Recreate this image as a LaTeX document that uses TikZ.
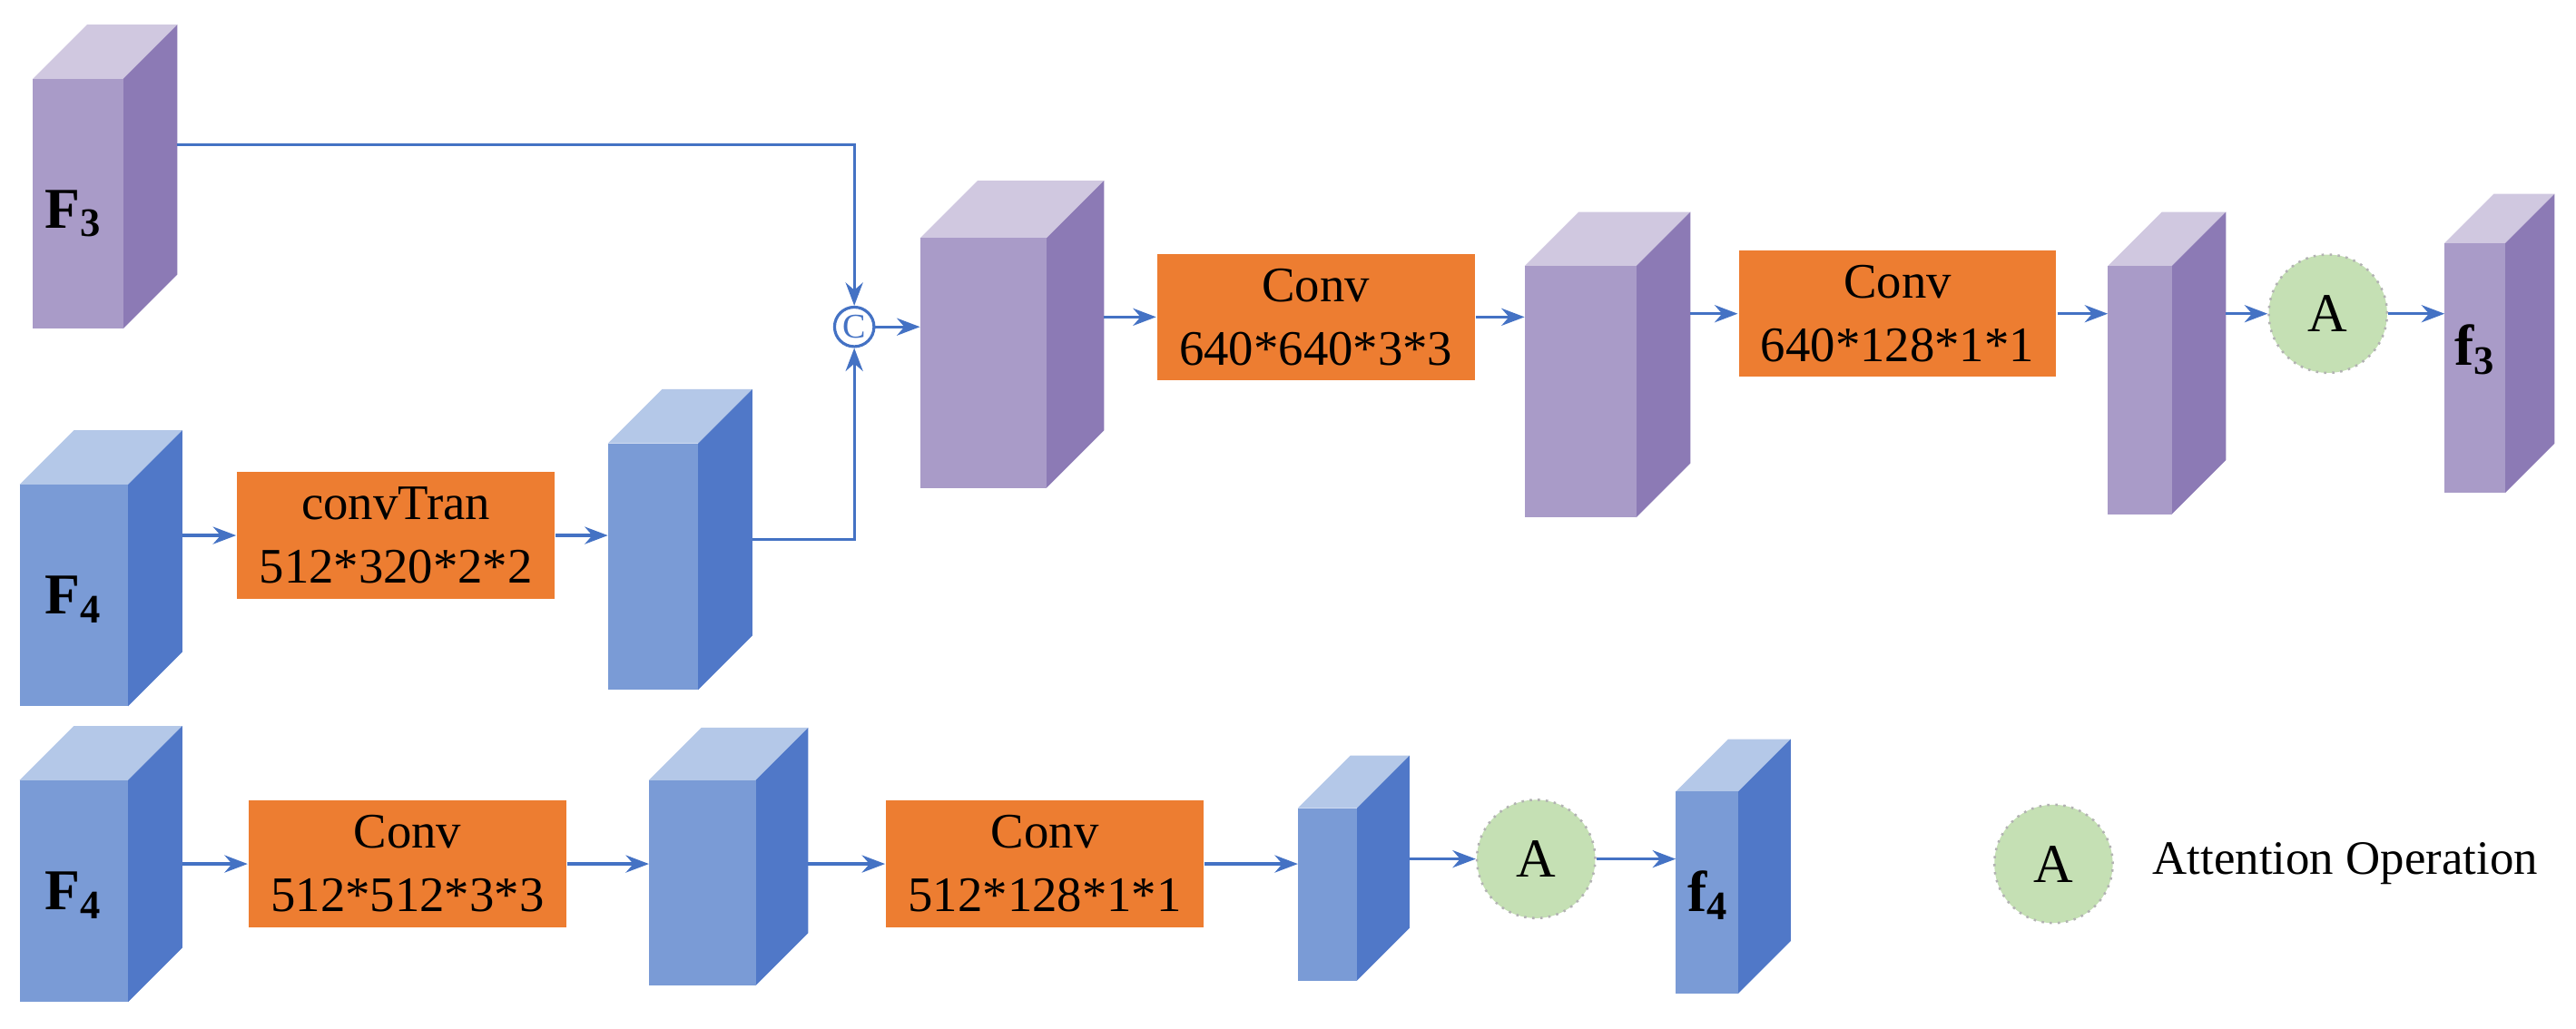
\documentclass[tikz,border=0pt]{standalone}
\usepackage{fontspec}
\setmainfont{Liberation Serif}
\usetikzlibrary{arrows.meta}
\definecolor{pf}{HTML}{A99BC8}\definecolor{ps}{HTML}{8C7AB5}\definecolor{pt}{HTML}{D0C8E0}
\definecolor{bf}{HTML}{7A9BD6}\definecolor{bs}{HTML}{5078C8}\definecolor{bt}{HTML}{B4C8E8}
\definecolor{org}{HTML}{ED7D31}\definecolor{grn}{HTML}{C5E0B4}\definecolor{ln}{HTML}{4472C4}
% #1 name #2 x1 #3 y1 #4 x2 #5 y2 #6 depth #7 front #8 side #9 top
\newcommand\mycube[9]{%
  \fill[#9] (#2,#3) -- ++(#6,-#6) -- (#4+#6,#3-#6) -- (#4,#3) -- cycle;
  \fill[#8] (#4,#3) -- (#4+#6,#3-#6) -- (#4+#6,#5-#6) -- (#4,#5) -- cycle;
  \fill[#7] (#2,#3) rectangle (#4,#5);
  \coordinate (#1-l) at (#2,{(#3+#5)/2-#6/2});
  \coordinate (#1-r) at (#4+#6,{(#3+#5)/2-#6/2});
}
\tikzset{x=0.01cm,y=-0.01cm,
  box/.style={fill=org,minimum width=1.93cm,minimum height=0.77cm,align=center,font=\fontsize{8.6}{11}\selectfont,inner sep=0pt},
  att/.style={circle,fill=grn,draw=gray!60,densely dotted,minimum size=0.72cm,font=\fontsize{9.5}{10}\selectfont,inner sep=0pt},
  arr/.style={draw=ln,-{Stealth[length=4pt,width=3pt]},line width=0.5pt},
  lab/.style={font=\bfseries\fontsize{10}{11}\selectfont}}
\begin{document}
\begin{tikzpicture}
\useasboundingbox (0,0) rectangle (1568,626);
\mycube{F3}{20}{48}{75}{200}{33}{pf}{ps}{pt}
\mycube{F4a}{12}{295}{78}{430}{33}{bf}{bs}{bt}
\mycube{B1}{370}{270}{425}{420}{33}{bf}{bs}{bt}
\mycube{P1}{560}{145}{637}{297}{35}{pf}{ps}{pt}
\mycube{P2}{928}{162}{996}{315}{33}{pf}{ps}{pt}
\mycube{P3}{1283}{162}{1322}{313}{33}{pf}{ps}{pt}
\mycube{f3}{1488}{148}{1525}{300}{30}{pf}{ps}{pt}
\mycube{F4b}{12}{475}{78}{610}{33}{bf}{bs}{bt}
\mycube{B2}{395}{475}{460}{600}{32}{bf}{bs}{bt}
\mycube{B3}{790}{492}{826}{597}{32}{bf}{bs}{bt}
\mycube{f4}{1020}{482}{1058}{605}{32}{bf}{bs}{bt}
\node[lab] (tF3) at (45,130) {F$_{\mathbf 3}$};
\node[lab] (tF4a) at (45,365) {F$_{\mathbf 4}$};
\node[lab] (tF4b) at (45,545) {F$_{\mathbf 4}$};
\node[lab] (tf3) at (1507,213) {f$_{\mathbf 3}$};
\node[lab] (tf4) at (1040,545) {f$_{\mathbf 4}$};
\node[box] (ct) at (241,326) {convTran\\512*320*2*2};
\node[box] (c1) at (801,193) {Conv\\640*640*3*3};
\node[box] (c2) at (1155,191) {Conv\\640*128*1*1};
\node[box] (c3) at (248,526) {Conv\\512*512*3*3};
\node[box] (c4) at (636,526) {Conv\\512*128*1*1};
\node[att] (a1) at (1417,191) {A};
\node[att] (a2) at (935,523) {A};
\node[att] (a3) at (1250,526) {A};
\node[anchor=west,font=\fontsize{8.3}{10}\selectfont] (leg) at (1298,526) {Attention Operation};
\node[circle,draw=ln,line width=0.5pt,minimum size=0.24cm,inner sep=0pt,text=ln,font=\fontsize{6}{6}\selectfont] (cc) at (520,199) {C};
\coordinate (f3o) at (108,88);
\draw[arr] (f3o) -| (cc.north);
\draw[arr] (B1-r) -| (cc.south);
\draw[arr] (cc) -- (P1-l|-cc);
\draw[arr] (F4a-r|-ct.west) -- (ct.west);
\draw[arr] (ct.east) -- (B1-l|-ct.east);
\draw[arr] (P1-r|-c1.west) -- (c1.west);
\draw[arr] (c1.east) -- (P2-l|-c1.east);
\draw[arr] (P2-r|-c2.west) -- (c2.west);
\draw[arr] (c2.east) -- (P3-l|-c2.east);
\draw[arr] (P3-r|-a1.west) -- (a1.west);
\draw[arr] (a1.east) -- (f3-l|-a1.east);
\draw[arr] (F4b-r|-c3.west) -- (c3.west);
\draw[arr] (c3.east) -- (B2-l|-c3.east);
\draw[arr] (B2-r|-c4.west) -- (c4.west);
\draw[arr] (c4.east) -- (B3-l|-c4.east);
\draw[arr] (B3-r|-a2.west) -- (a2.west);
\draw[arr] (a2.east) -- (f4-l|-a2.east);
\end{tikzpicture}
\end{document}
